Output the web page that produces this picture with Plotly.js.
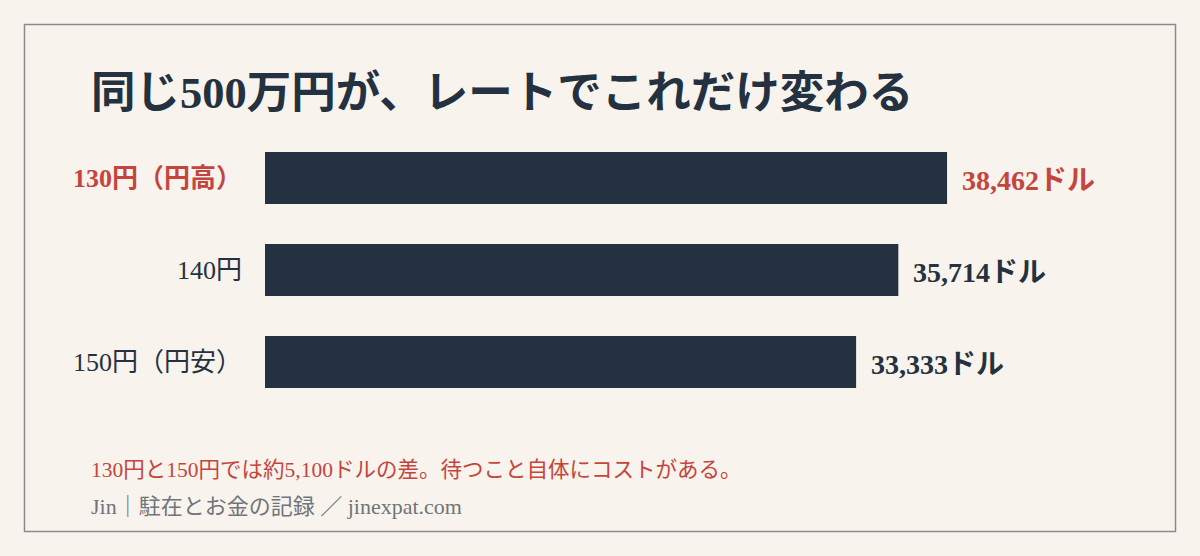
<!DOCTYPE html>
<html>
<head>
<meta charset="utf-8">
<script src="https://cdn.plot.ly/plotly-3.0.1.min.js"></script>
<style>
  html, body { margin: 0; padding: 0; background: #f8f3ec; }
  #chart { width: 1200px; height: 556px; }
</style>
</head>
<body>
<div id="chart"></div>
<script>
// Data
const rateLabels = ['130円（円高）', '140円', '150円（円安）'];
const dollarValues = [38462, 35714, 33333];
const valueLabels = ['38,462ドル', '35,714ドル', '33,333ドル'];
const highlight = [true, false, false];

const titleText = '同じ500万円が、レートでこれだけ変わる';
const noteText = '130円と150円では約5,100ドルの差。待つこと自体にコストがある。';
const sourceText = 'Jin｜駐在とお金の記録 ／ jinexpat.com';

// Styles
const BG = '#f8f3ec';
const NAVY = '#243140';
const RED = '#c5453d';
const GREY = '#6f757a';
const FONT = '"Liberation Serif", "DejaVu Serif", "Noto Sans CJK JP", serif';

const W = 1200, H = 556;
const margin = { l: 265, r: 137, t: 132, b: 148 };
const plotW = W - margin.l - margin.r;
const plotH = H - margin.t - margin.b;

// pixel -> paper helpers
const px = x => (x - margin.l) / plotW;
const py = y => 1 - (y - margin.t) / plotH;

const tickText = rateLabels.map((t, i) =>
  highlight[i] ? `<span style="color:${RED};font-weight:bold">${t}</span>` : t
);

const trace = {
  type: 'bar',
  orientation: 'h',
  x: dollarValues,
  y: rateLabels,
  marker: { color: NAVY },
  width: 0.565,
  hoverinfo: 'skip'
};

// value labels sit just past each bar end
const valueAnnotations = dollarValues.map((v, i) => ({
  text: `<b>${valueLabels[i]}</b>`,
  xref: 'x', yref: 'y',
  x: v, y: rateLabels[i],
  xanchor: 'left', yanchor: 'middle',
  xshift: 13, yshift: -2,
  showarrow: false,
  font: { family: FONT, size: 28, color: highlight[i] ? RED : NAVY }
}));

const layout = {
  width: W,
  height: H,
  paper_bgcolor: BG,
  plot_bgcolor: BG,
  margin,
  showlegend: false,
  font: { family: FONT, color: NAVY },
  xaxis: {
    range: [0, 45000],
    visible: false,
    fixedrange: true
  },
  yaxis: {
    autorange: 'reversed',
    tickvals: rateLabels,
    ticktext: tickText,
    tickfont: { family: FONT, size: 26, color: NAVY },
    ticks: '',
    ticklabelstandoff: 22,
    showgrid: false,
    zeroline: false,
    showline: false,
    fixedrange: true
  },
  shapes: [{
    type: 'rect',
    xref: 'paper', yref: 'paper',
    x0: px(24.5), x1: px(1175.5),
    y0: py(24.5), y1: py(531.5),
    line: { color: '#8a8d8f', width: 1.5 },
    fillcolor: 'rgba(0,0,0,0)',
    layer: 'below'
  }],
  annotations: [
    {
      text: `<b>${titleText}</b>`,
      xref: 'paper', yref: 'paper',
      x: px(89), y: py(93),
      xanchor: 'left', yanchor: 'middle',
      showarrow: false,
      font: { family: FONT, size: 44.5, color: NAVY }
    },
    {
      text: noteText,
      xref: 'paper', yref: 'paper',
      x: px(89), y: py(470),
      xanchor: 'left', yanchor: 'middle',
      showarrow: false,
      font: { family: FONT, size: 21.5, color: RED }
    },
    {
      text: sourceText,
      xref: 'paper', yref: 'paper',
      x: px(89), y: py(506),
      xanchor: 'left', yanchor: 'middle',
      showarrow: false,
      font: { family: FONT, size: 22, color: GREY }
    },
    ...valueAnnotations
  ]
};

Plotly.newPlot('chart', [trace], layout, { displayModeBar: false, staticPlot: true });
</script>
</body>
</html>
